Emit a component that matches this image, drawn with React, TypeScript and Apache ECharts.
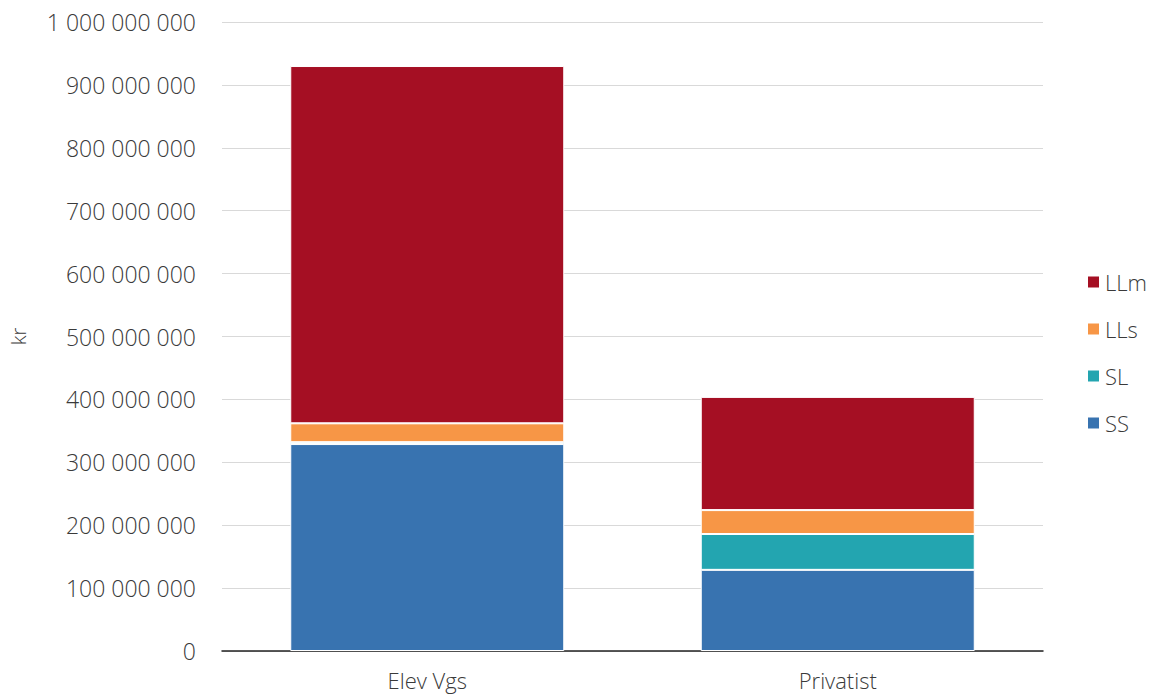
import React, { useEffect, useRef } from "react";
import * as echarts from "echarts";

const categories = ["Elev Vgs", "Privatist"];
const seriesNames = ["SS", "SL", "LLs", "LLm"];
const ssValues = [329000000, 129000000];
const slValues = [3000000, 57000000];
const llsValues = [30000000, 38000000];
const llmValues = [568000000, 180000000];
const colors = ["#3873b0", "#23a5b0", "#f79646", "#a50f23"];
const legendOrder = ["LLm", "LLs", "SL", "SS"];

const fmt = (v: number) => String(Math.round(v)).replace(/\B(?=(\d{3})+(?!\d))/g, " ");

export default function App() {
  const ref = useRef<HTMLDivElement>(null);
  useEffect(() => {
    if (!ref.current) return;
    const chart = echarts.init(ref.current, null, { renderer: "svg" });
    const values = [ssValues, slValues, llsValues, llmValues];
    const font = "'Open Sans', sans-serif";
    const txt = "#3a3a3a";
    chart.setOption({
      animation: false,
      textStyle: { fontFamily: font },
      grid: { left: 217, right: 110, top: 22, bottom: 46 },
      legend: {
        orient: "vertical",
        left: 1081,
        top: 266,
        data: legendOrder,
        itemWidth: 13,
        itemHeight: 13,
        itemGap: 25,
        icon: "rect",
        textStyle: { fontSize: 22, color: txt, fontWeight: 300, fontFamily: font },
      },
      xAxis: {
        type: "category",
        data: categories,
        axisTick: { show: false },
        axisLine: { lineStyle: { color: "#222", width: 1.5 } },
        axisLabel: { fontSize: 22, color: txt, fontWeight: 300, margin: 18, fontFamily: font },
      },
      yAxis: {
        type: "value",
        min: 0,
        max: 1000000000,
        interval: 100000000,
        name: "kr",
        nameLocation: "middle",
        nameGap: 194,
        nameTextStyle: { fontSize: 20, color: txt, fontWeight: 300, fontFamily: font },
        axisLabel: { fontSize: 23, color: txt, fontWeight: 300, margin: 26, formatter: fmt, fontFamily: font },
        splitLine: { lineStyle: { color: "#d9d9d9" } },
        axisLine: { show: false },
        axisTick: { show: false },
      },
      series: seriesNames.map((n, i) => ({
        name: n,
        type: "bar",
        stack: "total",
        barWidth: 274,
        data: values[i],
        itemStyle: { color: colors[i], borderColor: "#ffffff", borderWidth: 1 },
      })),
    });
    return () => chart.dispose();
  }, []);
  return (
    <div
      ref={ref}
      style={{ position: "absolute", left: 0, top: 0, width: 1153, height: 697 }}
    />
  );
}
